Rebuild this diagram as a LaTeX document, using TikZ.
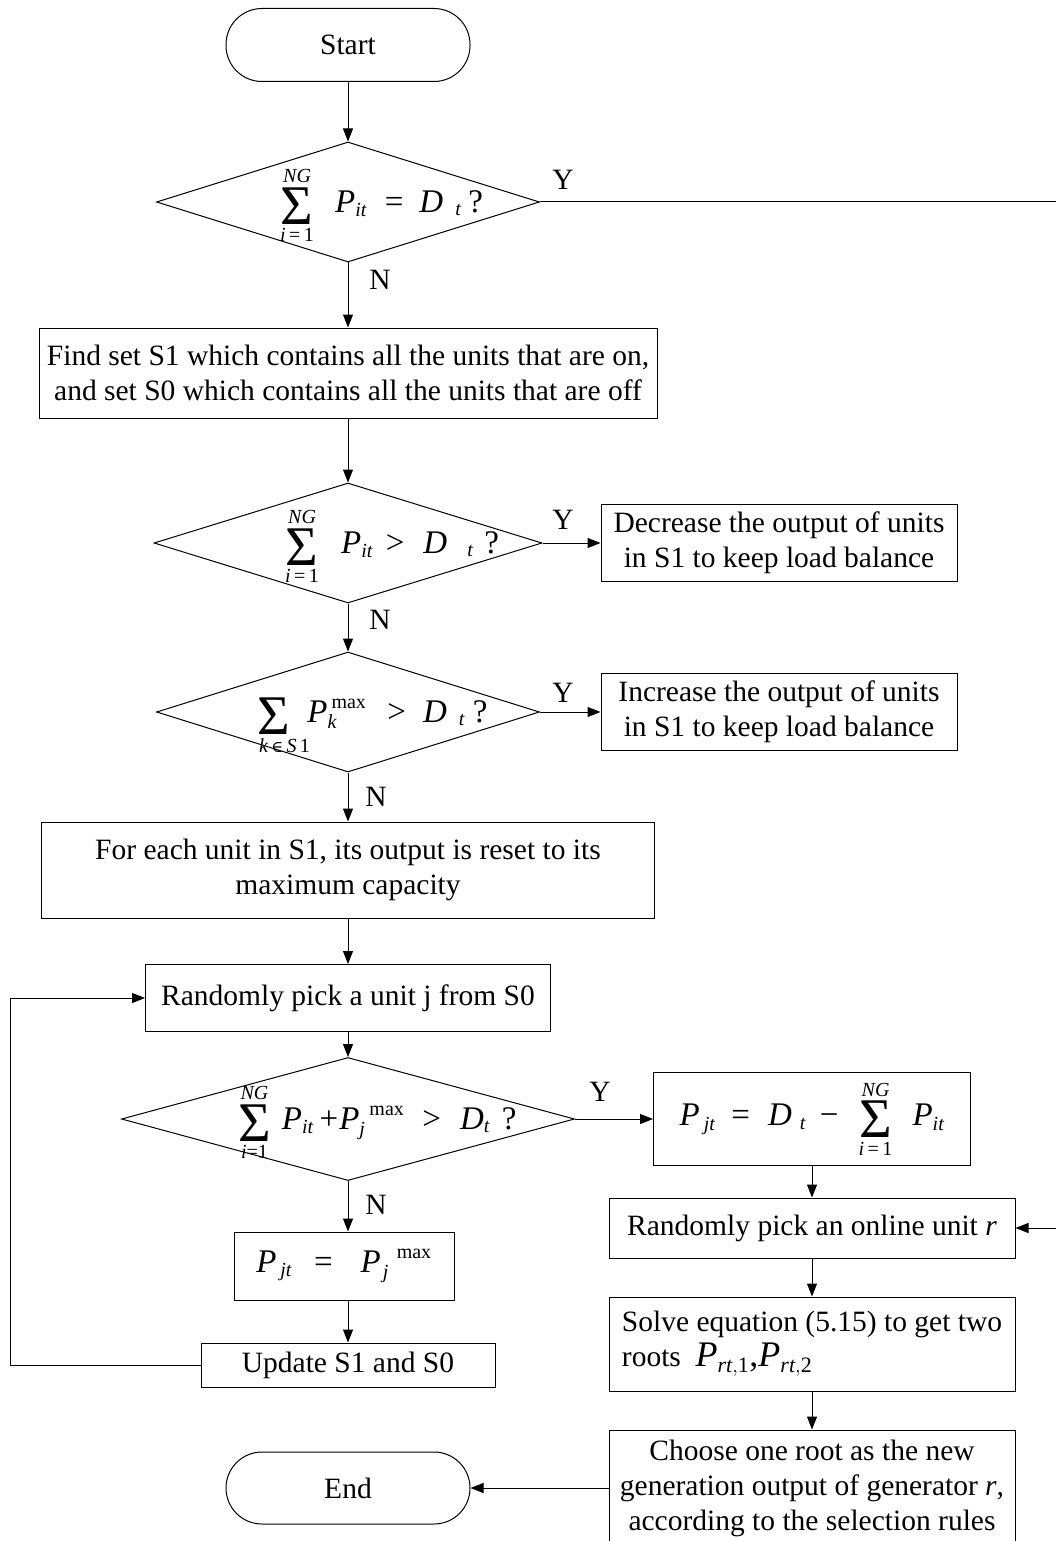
\documentclass[tikz,border=0pt]{standalone}
\usepackage{amsmath}
\usepackage{fontspec}
\setmainfont{Liberation Serif}
\newfontfamily\symfont{DejaVu Serif}
\usetikzlibrary{shapes.geometric,arrows.meta}
% formula pieces, all taken from the text fonts
\DeclareMathSizes{33}{33}{20}{15}
\DeclareMathSizes{36}{36}{22}{16}
\newcommand{\mi}[1]{\text{\itshape #1}}
\newcommand{\tx}[1]{\text{\upshape #1}}
\newcommand{\bigsum}{\mathop{\vcenter{\hbox{\fontsize{56}{56}\selectfont\upshape Σ}}}\limits}

\begin{document}
\begin{tikzpicture}[x=1pt,y=-1pt,
  every node/.style={font=\fontsize{29.5}{35}\selectfont},
  flow/.style={line width=1pt,-{Triangle[length=13pt,width=10pt]}},
  proc/.style={draw,line width=1pt,rectangle,inner sep=0pt,align=center},
  term/.style={draw,line width=1pt,rectangle,rounded corners=36pt,inner sep=0pt},
  cond/.style={draw,line width=1pt,diamond,inner sep=0pt},
  formula/.style={inner sep=0pt,font=\fontsize{33}{38}\selectfont},
  tag/.style={inner sep=0pt}
]
\useasboundingbox (0,0) rectangle (1056,1541);

% ---------- main column ----------
\node[term,minimum width=244pt,minimum height=73pt] (start) at (348,45) {Start};

\node[cond,minimum width=383pt,minimum height=120pt] (c1) at (348,202) {};
\node[formula,anchor=base west] (f1) at (280,212)
  {$\displaystyle\bigsum_{\mi{i}\,\tx{=}\,\tx{1}}^{\mi{NG}}\hspace{17pt}\mi{P}_{\mi{it}}\hspace{18pt}\tx{=}\hspace{16pt}\mi{D}_{\hspace{12pt}\mi{t}}\hspace{7pt}\tx{?}$};

\node[proc,minimum width=618pt,minimum height=90pt] (find) at (348,373)
  {Find set S1 which contains all the units that are on,\\and set S0 which contains all the units that are off};

\node[cond,minimum width=388pt,minimum height=120pt] (c2) at (348,543) {};
\node[formula,anchor=base west] (f2) at (285,553)
  {$\displaystyle\bigsum_{\mi{i}\,\tx{=}\,\tx{1}}^{\mi{NG}}\hspace{18pt}\mi{P}_{\mi{it}}\hspace{13pt}\tx{>}\hspace{19pt}\mi{D}_{\hspace{20pt}\mi{t}}\hspace{11pt}\tx{?}$};

\node[cond,minimum width=383pt,minimum height=120pt] (c3) at (348,712) {};
\node[formula,anchor=base west] (f3) at (256,722)
  {$\displaystyle\bigsum_{\makebox[36pt][l]{\hspace{3pt}\fontsize{20}{20}\selectfont\itshape k\,{\fontsize{16}{16}\selectfont\symfont ∈}\,S\,\upshape 1}}\hspace{11pt}\mi{P}_{\mi{k}}^{\hspace{4pt}\tx{max}}\hspace{21pt}\tx{>}\hspace{17pt}\mi{D}_{\hspace{12pt}\mi{t}}\hspace{8pt}\tx{?}$};

\node[proc,minimum width=613pt,minimum height=96pt] (reset) at (348,870)
  {For each unit in S1, its output is reset to its\\maximum capacity};

\node[proc,minimum width=405pt,minimum height=67pt] (pick) at (348,998)
  {Randomly pick a unit j from S0};

\node[cond,minimum width=453pt,minimum height=123pt] (c4) at (348,1119) {};
\node[formula,anchor=base west] (f4) at (238,1129)
  {$\displaystyle\bigsum_{\mi{i}\tx{=}\tx{1}}^{\mi{NG}}\hspace{7pt}\mi{P}_{\mi{it}}\hspace{6pt}\tx{+}\hspace{1pt}\mi{P}_{\mi{j}}^{\hspace{10pt}\tx{max}}\hspace{18pt}\tx{>}\hspace{19pt}\mi{D}_{\mi{t}}\hspace{12pt}\tx{?}$};

\node[proc,minimum width=220pt,minimum height=68pt,font=\fontsize{33}{38}\selectfont] (full) at (344,1266)
  {$\mi{P}_{\hspace{4pt}\mi{jt}}\hspace{22pt}\tx{=}\hspace{28pt}\mi{P}_{\hspace{2pt}\mi{j}}^{\hspace{16pt}\tx{max}}$};

\node[proc,minimum width=294pt,minimum height=44pt] (update) at (348,1365)
  {Update S1 and S0};

\node[term,minimum width=244pt,minimum height=72pt] (end) at (348,1488) {End};

% ---------- right column ----------
\node[proc,minimum width=356pt,minimum height=77pt] (dec) at (779,543)
  {Decrease the output of units\\in S1 to keep load balance};
\node[proc,minimum width=356pt,minimum height=77pt] (inc) at (779,712)
  {Increase the output of units\\in S1 to keep load balance};

\node[proc,minimum width=317pt,minimum height=93pt,font=\fontsize{33}{38}\selectfont] (rest) at (812,1119)
  {$\mi{P}_{\hspace{4pt}\mi{jt}}\hspace{16pt}\tx{=}\hspace{18pt}\mi{D}_{\hspace{8pt}\mi{t}}\hspace{14pt}\tx{−}\hspace{16pt}\displaystyle\bigsum_{\mi{i}\,\tx{=}\,\tx{1}}^{\mi{NG}}\hspace{16pt}\mi{P}_{\mi{it}}$};

\node[proc,minimum width=406pt,minimum height=60pt] (online) at (812,1228)
  {Randomly pick an online unit \textit{r}};

\node[proc,minimum width=406pt,minimum height=94pt,align=left] (solve) at (812,1344)
  {Solve equation (5.15) to get two\\roots \ {\fontsize{36}{36}\selectfont$\mi{P}_{\mi{rt},\tx{1}}\tx{,}\mi{P}_{\mi{rt},\tx{2}}$}};

\node[proc,minimum width=406pt,minimum height=116pt] (choose) at (812,1488)
  {Choose one root as the new\\generation output of generator \textit{r},\\according to the selection rules};

% ---------- branch labels ----------
\node[tag] (y1) at (563,180) {Y};
\node[tag] (n1) at (380,280) {N};
\node[tag] (y2) at (563,520) {Y};
\node[tag] (n2) at (380,620) {N};
\node[tag] (y3) at (563,693) {Y};
\node[tag] (n3) at (376,797) {N};
\node[tag] (y4) at (600,1092) {Y};
\node[tag] (n4) at (376,1205) {N};

% ---------- connectors ----------
\coordinate (rt) at (1090,202);
\coordinate (lp) at (10,1365);

\draw[flow] (start) -- (c1);
\draw[flow] (c1) -- (find);
\draw[flow] (find) -- (c2);
\draw[flow] (c2) -- (c3);
\draw[flow] (c3) -- (reset);
\draw[flow] (reset) -- (pick);
\draw[flow] (pick) -- (c4);
\draw[flow] (c4.south) -- (c4.south |- full.north);
\draw[flow] (full.south -| update.north) -- (update.north);
\draw[flow] (update.west) -- (lp) |- (pick.west);

\draw[flow] (c1.east) -- (rt) |- (online.east);
\draw[flow] (c2.east) -- (dec.west);
\draw[flow] (c3.east) -- (inc.west);
\draw[flow] (c4.east) -- (rest.west);
\draw[flow] (rest) -- (online);
\draw[flow] (online) -- (solve);
\draw[flow] (solve) -- (choose);
\draw[flow] (choose.west) -- (end.east);
\end{tikzpicture}
\end{document}
